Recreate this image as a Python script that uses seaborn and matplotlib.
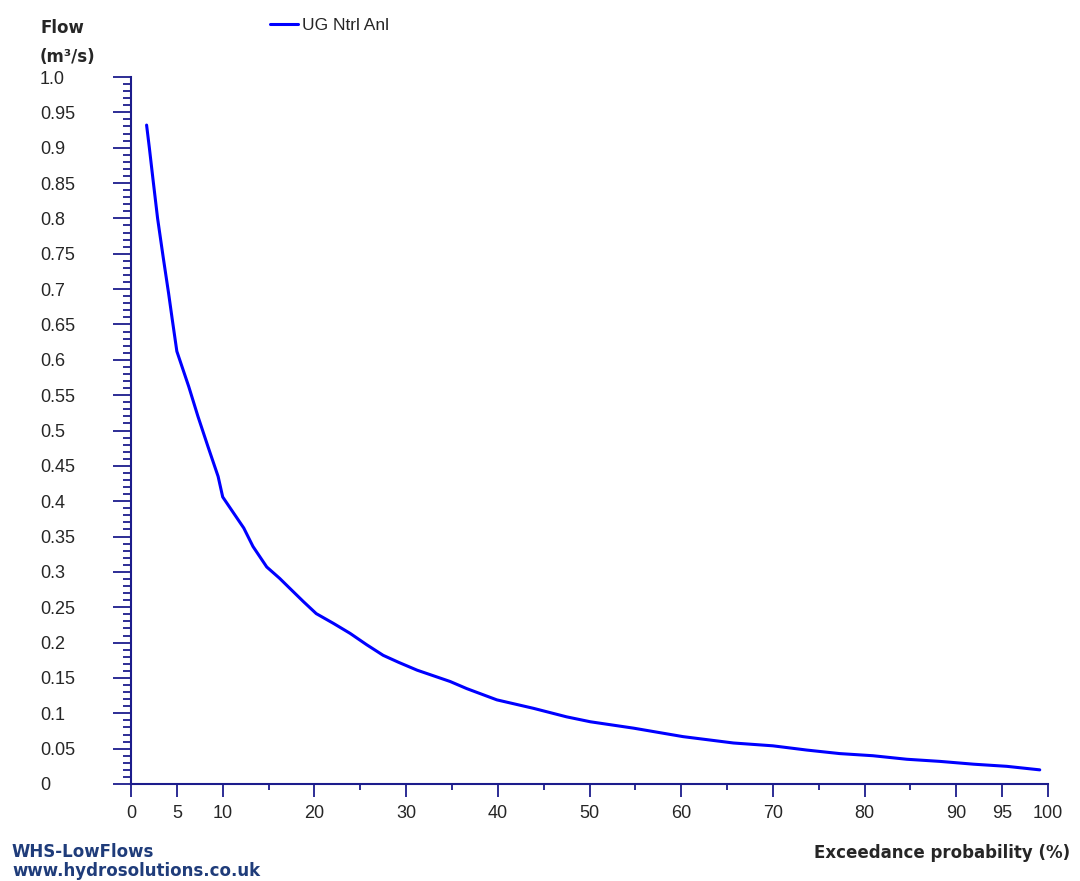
import numpy as np
import pandas as pd
import matplotlib
matplotlib.use("Agg")
import matplotlib.pyplot as plt
import seaborn as sns

# flow duration curve
exceedance = [1.7, 2.0, 2.4, 2.9, 3.5, 4.1, 4.5, 5.0, 6.3, 7.3, 8.4, 9.5,
              10.0, 11.2, 12.3, 13.3, 14.8, 16.2, 17.3, 18.8, 20.2, 22.1, 23.9,
              25.7, 27.5, 29.2, 31.2, 33.0, 34.8, 36.6, 39.9, 43.9, 47.5, 50.1,
              54.8, 60.2, 65.7, 70.0, 73.7, 77.3, 80.9, 84.6, 88.2, 91.9, 95.5, 99.1]
flow = [0.932, 0.900, 0.855, 0.800, 0.746, 0.694, 0.657, 0.612,
        0.562, 0.520, 0.477, 0.435, 0.406, 0.383, 0.362, 0.336, 0.307, 0.291,
        0.277, 0.258, 0.241, 0.227, 0.213, 0.197, 0.182, 0.172, 0.161, 0.153,
        0.145, 0.135, 0.119, 0.107, 0.095, 0.088, 0.079, 0.067, 0.058, 0.054,
        0.048, 0.043, 0.040, 0.035, 0.032, 0.028, 0.025, 0.020]
series_name = "UG Ntrl Anl"

x_major = [0, 5, 10, 20, 30, 40, 50, 60, 70, 80, 90, 95, 100]
x_minor = [15, 25, 35, 45, 55, 65, 75, 85]
y_major = [i * 0.05 for i in range(21)]
y_labels = ['0', '0.05', '0.1', '0.15', '0.2', '0.25', '0.3', '0.35', '0.4', '0.45',
            '0.5', '0.55', '0.6', '0.65', '0.7', '0.75', '0.8', '0.85', '0.9', '0.95', '1.0']
y_minor = [i * 0.01 for i in range(101)]

df = pd.DataFrame({'Exceedance': exceedance, 'Flow': flow, 'Series': series_name})

sns.set_style("white")
plt.rcParams['font.family'] = ['Liberation Sans', 'DejaVu Sans']

axis_col = '#1c1c8c'
fig = plt.figure(figsize=(10.8, 8.81), dpi=100)
ax = fig.add_axes([131 / 1080, 1 - 784 / 881, (1048 - 131) / 1080, (784 - 77) / 881])

sns.lineplot(data=df, x='Exceedance', y='Flow', hue='Series', palette=['#0000ff'],
             estimator=None, sort=False, linewidth=2.2, ax=ax, legend=False)

ax.set_xlim(0, 100)
ax.set_ylim(0, 1.0)
ax.set_xlabel('')
ax.set_ylabel('')
for s in ['top', 'right']:
    ax.spines[s].set_visible(False)
for s in ['left', 'bottom']:
    ax.spines[s].set_color(axis_col)
    ax.spines[s].set_linewidth(1.5)

ax.set_xticks(x_major)
ax.set_xticklabels([str(v) for v in x_major])
ax.set_xticks(x_minor, minor=True)
ax.set_yticks(y_major)
ax.set_yticklabels(y_labels)
ax.set_yticks(y_minor, minor=True)

ax.tick_params(axis='x', which='major', direction='out', length=9, width=1.3,
               color=axis_col, labelsize=13, pad=6, bottom=True)
ax.tick_params(axis='x', which='minor', direction='out', length=4.5, width=1.3,
               color=axis_col, bottom=True)
ax.tick_params(axis='y', which='major', direction='out', length=13, width=1.3,
               color=axis_col, labelsize=13, pad=52.5, left=True)
ax.tick_params(axis='y', which='minor', direction='out', length=6, width=1.3,
               color=axis_col, left=True)
for lab in ax.get_yticklabels():
    lab.set_horizontalalignment('left')

# legend
handle = plt.Line2D([], [], color='#0000ff', linewidth=2.2)
fig.legend([handle], [series_name], loc='center left',
           bbox_to_anchor=(270 / 1080, 1 - 25 / 881), frameon=False, fontsize=12.5,
           handlelength=1.6, handletextpad=0.25, borderpad=0, borderaxespad=0)

# axis titles and footer
bold = dict(fontsize=12, fontweight='bold', family='DejaVu Sans', va='center')
fig.text(40 / 1080, 1 - 28 / 881, 'Flow', ha='left', **bold)
fig.text(40 / 1080, 1 - 57 / 881, '(m³/s)', ha='left', **bold)
fig.text(1070 / 1080, 1 - 853 / 881, 'Exceedance probability (%)', ha='right', **bold)
fig.text(12 / 1080, 1 - 852 / 881, 'WHS-LowFlows', ha='left', color='#1f3c7a', **bold)
fig.text(12 / 1080, 1 - 871 / 881, 'www.hydrosolutions.co.uk', ha='left',
         color='#1f3c7a', **bold)

fig.savefig('out.png', dpi=100, facecolor='white')
